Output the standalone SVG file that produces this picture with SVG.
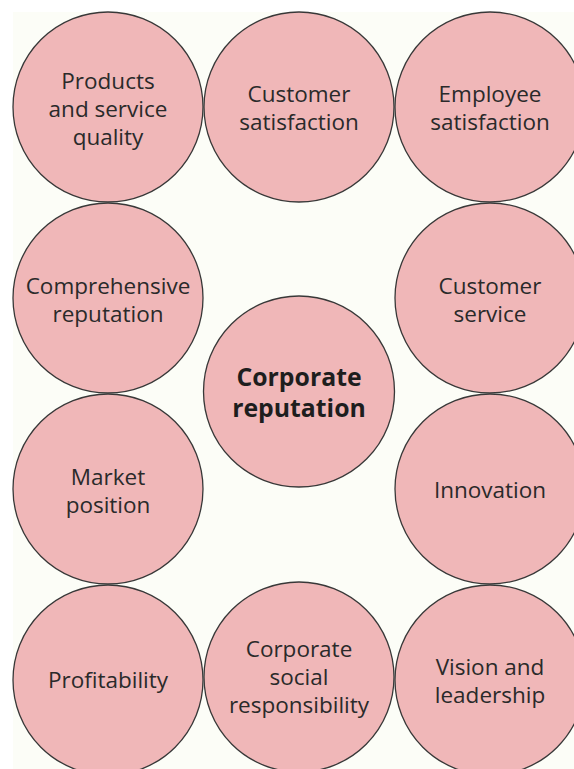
<svg xmlns="http://www.w3.org/2000/svg" width="574" height="769" viewBox="0 0 574 769">
  <style>
    .bubble { fill: #f0b7b8; stroke: #383838; stroke-width: 1.3; }
    .label { font-family: "Open Sans", "DejaVu Sans", sans-serif; font-size: 22.5px; fill: #2a2a2a; text-anchor: middle; }
    .core { font-family: "Open Sans", "DejaVu Sans", sans-serif; font-size: 24.8px; font-weight: 700; fill: #1e1e1e; text-anchor: middle; }
  </style>
  <rect x="0" y="0" width="574" height="769" fill="#ffffff"/>
  <rect x="13" y="12" width="561" height="757" fill="#fcfdf7"/>

  <g id="connectors"></g>

  <g id="products-quality">
    <circle class="bubble" cx="108" cy="107" r="95"/>
    <text class="label" x="108" y="89">Products</text>
    <text class="label" x="108" y="117">and service</text>
    <text class="label" x="108" y="145">quality</text>
  </g>
  <g id="customer-satisfaction">
    <circle class="bubble" cx="299" cy="107" r="95"/>
    <text class="label" x="299" y="102">Customer</text>
    <text class="label" x="299" y="130">satisfaction</text>
  </g>
  <g id="employee-satisfaction">
    <circle class="bubble" cx="490" cy="107" r="95"/>
    <text class="label" x="490" y="102">Employee</text>
    <text class="label" x="490" y="130">satisfaction</text>
  </g>
  <g id="comprehensive-reputation">
    <circle class="bubble" cx="108" cy="298" r="95"/>
    <text class="label" x="108" y="294">Comprehensive</text>
    <text class="label" x="108" y="322">reputation</text>
  </g>
  <g id="customer-service">
    <circle class="bubble" cx="490" cy="298" r="95"/>
    <text class="label" x="490" y="294">Customer</text>
    <text class="label" x="490" y="322">service</text>
  </g>
  <g id="corporate-reputation">
    <circle class="bubble" cx="299" cy="391.5" r="95.5"/>
    <text class="core" x="299" y="386">Corporate</text>
    <text class="core" x="299" y="417">reputation</text>
  </g>
  <g id="market-position">
    <circle class="bubble" cx="108" cy="489" r="95"/>
    <text class="label" x="108" y="485">Market</text>
    <text class="label" x="108" y="513">position</text>
  </g>
  <g id="innovation">
    <circle class="bubble" cx="490" cy="489" r="95"/>
    <text class="label" x="490" y="498">Innovation</text>
  </g>
  <g id="profitability">
    <circle class="bubble" cx="108" cy="680" r="95"/>
    <text class="label" x="108" y="688">Profitability</text>
  </g>
  <g id="corporate-social-responsibility">
    <circle class="bubble" cx="299" cy="677" r="95"/>
    <text class="label" x="299" y="657">Corporate</text>
    <text class="label" x="299" y="685">social</text>
    <text class="label" x="299" y="713">responsibility</text>
  </g>
  <g id="vision-leadership">
    <circle class="bubble" cx="490" cy="680" r="95"/>
    <text class="label" x="490" y="675">Vision and</text>
    <text class="label" x="490" y="703">leadership</text>
  </g>
</svg>
